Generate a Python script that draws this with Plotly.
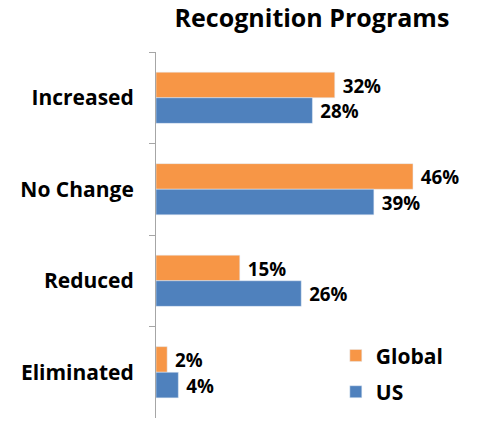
import plotly.graph_objects as go

categories = ["Increased", "No Change", "Reduced", "Eliminated"]
global_vals = [32, 46, 15, 2]
us_vals = [28, 39, 26, 4]

FONT = "Open Sans"
fig = go.Figure()
fig.add_trace(go.Bar(
    y=categories, x=global_vals, orientation="h", name="Global",
    marker=dict(color="#F79646"), text=[f" {v}%" for v in global_vals],
    textposition="outside", cliponaxis=False,
    textfont=dict(family=FONT, size=22, color="black", weight="bold"),
    legendgroup="g",
))
fig.add_trace(go.Bar(
    y=categories, x=us_vals, orientation="h", name="US",
    marker=dict(color="#4F81BD"), text=[f" {v}%" for v in us_vals],
    textposition="outside", cliponaxis=False,
    textfont=dict(family=FONT, size=22, color="black", weight="bold"),
    legendgroup="u",
))

fig.update_layout(
    width=496, height=435,
    margin=dict(l=156, r=16, t=52, b=17, autoexpand=False),
    paper_bgcolor="white", plot_bgcolor="white",
    barmode="group", bargap=0.44, bargroupgap=0,
    title=dict(text="<b>Recognition Programs</b>", x=0.629, xanchor="center",
               y=0.958, yanchor="middle",
               font=dict(family=FONT, size=25, color="black")),
    showlegend=True,
    legend=dict(x=0.555, y=0.226, xanchor="left", yanchor="top",
                traceorder="grouped", tracegroupgap=6,
                font=dict(family=FONT, size=21, color="black", weight="bold"),
                bgcolor="rgba(0,0,0,0)"),
    font=dict(family=FONT),
)
fig.update_xaxes(range=[0, 58], visible=False, showgrid=False, zeroline=False)
fig.update_yaxes(
    categoryorder="array", categoryarray=categories, autorange="reversed",
    showline=True, linecolor="#A6A6A6", linewidth=1, automargin=False,
    ticks="outside", tickson="boundaries", ticklen=6, tickcolor="#A6A6A6",
    ticklabelstandoff=17, showgrid=False,
    tickfont=dict(family=FONT, size=21, color="black", weight="bold"),
)
fig.write_html("out.html", config={"displayModeBar": False},
               post_script="document.body.style.margin='0';document.body.style.overflow='hidden';")
